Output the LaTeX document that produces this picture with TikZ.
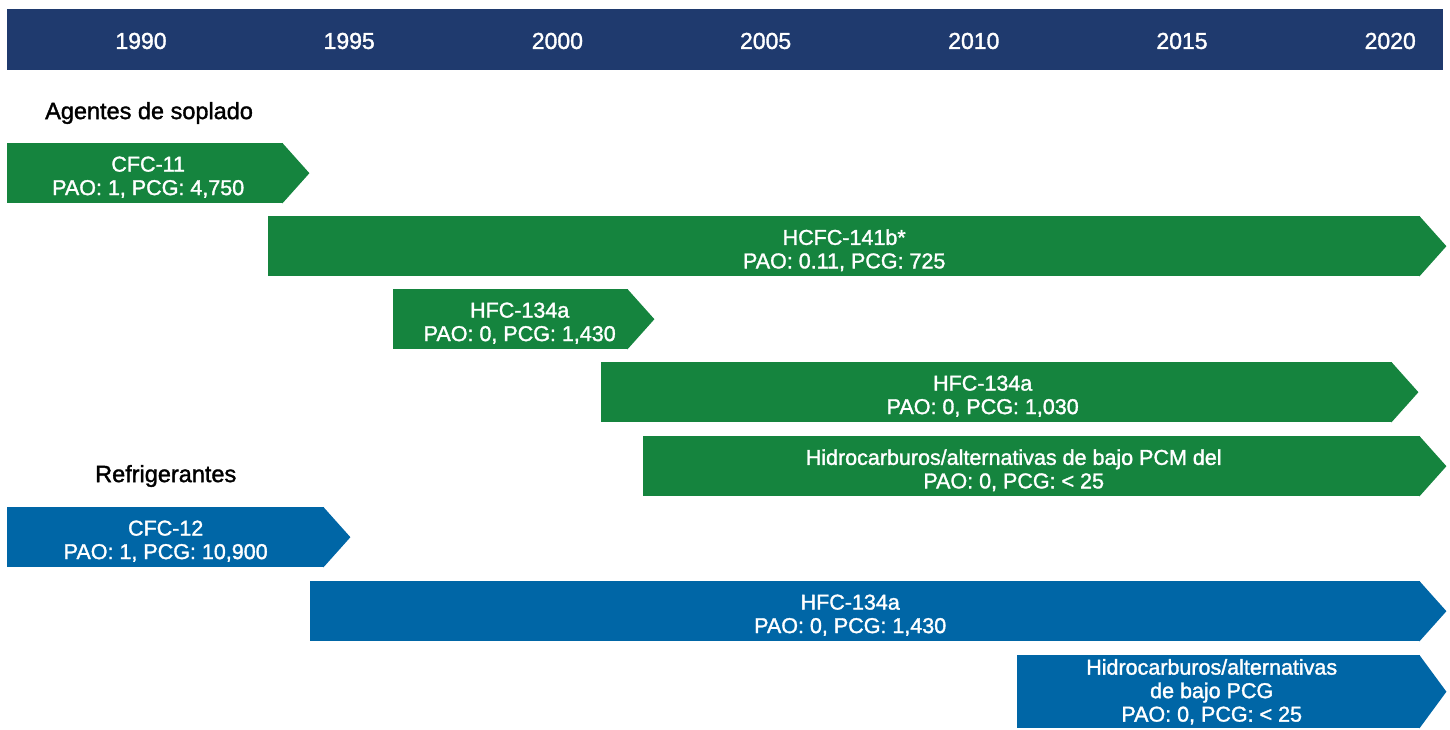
\documentclass[tikz,border=0pt]{standalone}
\usepackage{fontspec}
\setmainfont{Liberation Sans}
\newfontfamily\medium{Liberation Sans}[FakeBold=1.5]

\definecolor{navy}{HTML}{1F3A6E}
\definecolor{soplado}{HTML}{15843E}
\definecolor{refrig}{HTML}{0066A6}

\tikzset{
  bar/.style={anchor=north west, minimum height=60pt, inner sep=0pt},
  bartext/.style={text=white, align=center, inner sep=0pt, yshift=-4pt,
    font=\medium\fontsize{21.5}{23.5}\selectfont},
  year/.style={text=white, font=\medium\fontsize{23}{25}\selectfont},
  group/.style={anchor=west, inner sep=0pt, font=\medium\fontsize{23.5}{25}\selectfont},
}

\begin{document}
\begin{tikzpicture}[x=1pt, y=-1pt]
    \useasboundingbox[fill=white] (0,0) rectangle (1450,730);

    % timeline header
    \node[fill=navy, anchor=north west, minimum width=1436pt, minimum height=61pt, inner sep=0pt] (timeline) at (7,9) {};
    \foreach \yr [count=\i from 0] in {1990,1995,...,2020}
        \node[year] (y\yr) at (141+208.2*\i, 41) {\yr};

    % blowing agents
    \node[group] (soplado) at (45,113) {Agentes de soplado};
    \node[bar, fill=soplado, minimum width=276pt] (cfc11) at (7,143) {};
    \node[bar, fill=soplado, minimum width=1152pt] (hcfc141b) at (268,216) {};
    \node[bar, fill=soplado, minimum width=235pt] (hfcA) at (393,289) {};
    \node[bar, fill=soplado, minimum width=791pt] (hfcB) at (601,362) {};
    \node[bar, fill=soplado, minimum width=777pt] (hcA) at (643,436) {};

    % refrigerants
    \node[group] (refrig) at (95,476) {Refrigerantes};
    \node[bar, fill=refrig, minimum width=317pt] (cfc12) at (7,507) {};
    \node[bar, fill=refrig, minimum width=1110pt] (hfcC) at (310,581) {};
    \node[bar, fill=refrig, minimum width=403pt, minimum height=73pt] (hcB) at (1017,655) {};

    % arrow tips
    \foreach \n/\c in {cfc11/soplado, hcfc141b/soplado, hfcA/soplado, hfcB/soplado, hcA/soplado,
                       cfc12/refrig, hfcC/refrig, hcB/refrig}
        \fill[\c] ([xshift=-1pt]\n.north east) -- ([xshift=26pt]\n.east) -- ([xshift=-1pt]\n.south east) -- cycle;

    % labels on the bars
    \node[bartext] (cfc11-t) at ([xshift=3pt]cfc11.center) {CFC-11\\PAO: 1, PCG: 4,750};
    \node[bartext] (hcfc141b-t) at (hcfc141b.center) {HCFC-141b*\\PAO: 0.11, PCG: 725};
    \node[bartext] (hfcA-t) at ([xshift=9pt]hfcA.center) {HFC-134a\\PAO: 0, PCG: 1,430};
    \node[bartext] (hfcB-t) at ([xshift=-14pt]hfcB.center) {HFC-134a\\PAO: 0, PCG: 1,030};
    \node[bartext] (hcA-t) at ([xshift=-18pt]hcA.center) {Hidrocarburos/alternativas de bajo PCM del\\PAO: 0, PCG: < 25};
    \node[bartext] (cfc12-t) at (cfc12.center) {CFC-12\\PAO: 1, PCG: 10,900};
    \node[bartext] (hfcC-t) at ([xshift=-15pt]hfcC.center) {HFC-134a\\PAO: 0, PCG: 1,430};
    \node[bartext, yshift=4pt] (hcB-t) at ([xshift=-7pt]hcB.center) {Hidrocarburos/alternativas\\de bajo PCG\\PAO: 0, PCG: < 25};
\end{tikzpicture}
\end{document}
